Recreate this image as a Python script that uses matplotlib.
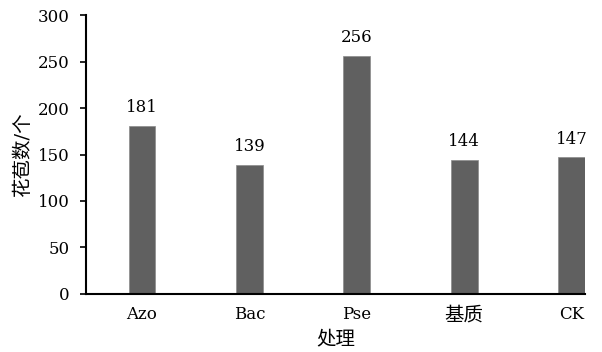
import matplotlib
matplotlib.use('Agg')
from matplotlib import pyplot as plt

categories = ["Azo", "Bac", "Pse", "基质", "CK"]
values = [181, 139, 256, 144, 147]
yticks = [0, 50, 100, 150, 200, 250, 300]

plt.rcParams['font.family'] = ['DejaVu Serif', 'Noto Sans CJK SC']
plt.rcParams['font.size'] = 12

fig = plt.figure(figsize=(6.02, 3.52), dpi=100)
ax = fig.add_axes([0.143, 0.165, 0.829, 0.792])

x = list(range(len(categories)))
ax.bar(x, values, width=0.25, color='#606060', edgecolor='#8a8a8a', linewidth=0.5)
for xi, v in zip(x, values):
    ax.annotate(str(v), (xi, v), xytext=(0, 7), textcoords='offset points',
                ha='center', va='bottom', fontsize=12)

ax.set_xlim(-0.52, 4.125)
ax.set_ylim(0, 300)
ax.set_yticks(yticks)
ax.set_xticks(x)
ax.set_xticklabels(categories)
# chinese tick label a bit larger, like the original typeface
for lbl in ax.get_xticklabels():
    if lbl.get_text() == "基质":
        lbl.set_fontsize(14)
ax.tick_params(axis='x', length=0, pad=9)
ax.tick_params(axis='y', length=4, width=1.2, direction='out', pad=8)
for s in ['top', 'right']:
    ax.spines[s].set_visible(False)
for s in ['left', 'bottom']:
    ax.spines[s].set_linewidth(1.5)

ax.set_xlabel('处理', fontsize=14, labelpad=4)
ax.set_ylabel('花苞数/个', fontsize=14, labelpad=4)

fig.savefig('out.png', dpi=100)
